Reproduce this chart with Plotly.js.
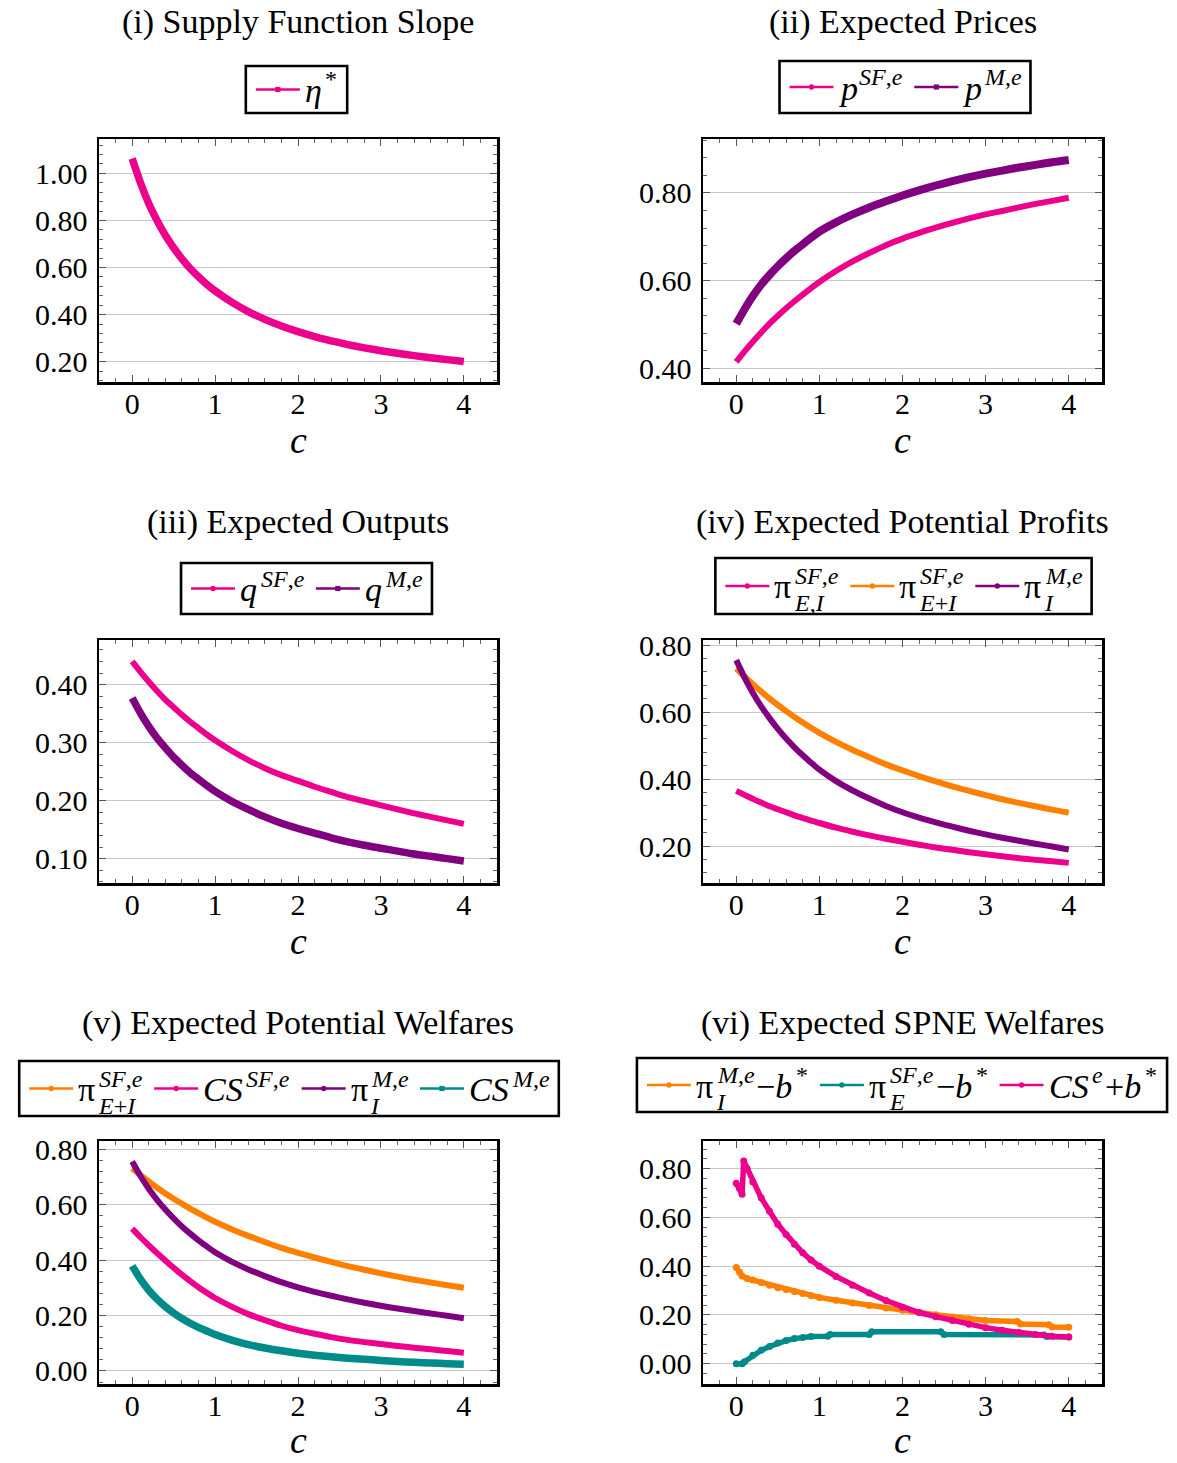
<!DOCTYPE html>
<html>
<head>
<meta charset="utf-8">
<script src="https://cdn.plot.ly/plotly-3.0.1.min.js"></script>
<style>
  html, body { margin: 0; padding: 0; background: #fff; }
  #chart { width: 1177px; height: 1463px; }
</style>
</head>
<body>
<div id="chart"></div>
<script>
// ---------- data ----------
const C = [0,0.1,0.2,0.3,0.4,0.5,0.6,0.7,0.8,0.9,1.0,1.2,1.4,1.6,1.8,2.0,2.2,2.4,2.6,2.8,3.0,3.2,3.4,3.6,3.8,4.0];

// (i) supply function slope
const etaStar = [1.063,0.960,0.872,0.800,0.737,0.684,0.637,0.596,0.561,0.529,0.501,0.453,0.413,0.380,0.352,0.328,0.307,0.289,0.273,0.259,0.247,0.236,0.226,0.217,0.209,0.201];

// (ii) expected prices
const pSF = [0.415,0.439,0.461,0.482,0.502,0.520,0.537,0.553,0.568,0.583,0.597,0.622,0.644,0.663,0.681,0.696,0.709,0.721,0.732,0.742,0.751,0.759,0.767,0.775,0.782,0.789];
const pM  = [0.502,0.535,0.565,0.591,0.613,0.633,0.651,0.668,0.683,0.698,0.712,0.733,0.751,0.767,0.781,0.794,0.806,0.817,0.827,0.836,0.844,0.851,0.858,0.864,0.870,0.875];

// (iii) expected outputs
const qSF = [0.440,0.422,0.405,0.389,0.374,0.361,0.348,0.336,0.325,0.314,0.304,0.286,0.270,0.256,0.244,0.234,0.224,0.215,0.206,0.199,0.192,0.185,0.178,0.172,0.166,0.160];
const qM  = [0.377,0.351,0.328,0.308,0.291,0.275,0.261,0.248,0.237,0.226,0.216,0.199,0.185,0.172,0.161,0.152,0.144,0.136,0.129,0.123,0.118,0.113,0.108,0.104,0.100,0.096];

// (iv) expected potential profits
const piSF_EI  = [0.365,0.353,0.341,0.330,0.319,0.310,0.301,0.292,0.284,0.276,0.269,0.255,0.243,0.232,0.222,0.213,0.204,0.196,0.189,0.182,0.176,0.170,0.164,0.159,0.155,0.150];
const piSF_EpI = [0.730,0.706,0.683,0.661,0.640,0.621,0.603,0.585,0.569,0.553,0.538,0.511,0.487,0.465,0.444,0.426,0.409,0.393,0.378,0.365,0.352,0.340,0.329,0.319,0.309,0.300];
const piM_I    = [0.755,0.703,0.657,0.617,0.582,0.550,0.521,0.495,0.471,0.449,0.428,0.394,0.366,0.342,0.320,0.301,0.285,0.271,0.258,0.246,0.235,0.225,0.216,0.207,0.199,0.190];

// (v) expected potential welfares
const CS_SF = [0.513,0.482,0.453,0.425,0.398,0.372,0.347,0.324,0.302,0.282,0.263,0.232,0.205,0.183,0.163,0.147,0.134,0.122,0.112,0.104,0.097,0.090,0.084,0.078,0.072,0.066];
const CS_M  = [0.379,0.331,0.291,0.259,0.232,0.209,0.189,0.172,0.157,0.144,0.131,0.111,0.095,0.083,0.073,0.064,0.057,0.051,0.046,0.042,0.038,0.034,0.031,0.029,0.026,0.024];

// (vi) expected SPNE welfares
const cOrange = [0,0.04,0.07,0.13,0.2,0.3,0.4,0.5,0.6,0.7,0.8,0.9,1.0,1.2,1.4,1.6,1.8,2.0,2.2,2.4,2.6,2.8,3.0,3.38,3.42,3.76,3.8,4.0];
const piMI_minus_b = [0.395,0.375,0.360,0.349,0.343,0.333,0.322,0.312,0.304,0.296,0.288,0.280,0.272,0.260,0.249,0.239,0.229,0.219,0.210,0.201,0.192,0.184,0.177,0.173,0.163,0.160,0.151,0.150];
const cTeal = [0,0.07,0.1,0.2,0.3,0.4,0.5,0.6,0.7,0.8,0.9,1.1,1.13,1.6,1.63,2.46,2.5,3.7,3.74,4.0];
const piSFE_minus_b = [0.000,0.000,0.008,0.035,0.055,0.071,0.085,0.095,0.103,0.108,0.112,0.113,0.120,0.120,0.131,0.131,0.120,0.118,0.112,0.110];
const cPink = [0,0.04,0.07,0.09,0.13,0.2,0.3,0.4,0.5,0.6,0.7,0.8,0.9,1.0,1.2,1.4,1.6,1.8,2.0,2.2,2.4,2.6,2.8,3.0,3.2,3.4,3.6,3.8,4.0];
const CSe_plus_b = [0.740,0.718,0.695,0.831,0.800,0.745,0.680,0.625,0.572,0.530,0.490,0.455,0.425,0.400,0.358,0.322,0.290,0.259,0.232,0.210,0.193,0.177,0.162,0.148,0.137,0.128,0.120,0.113,0.110];

const titles = ['(i) Supply Function Slope','(ii) Expected Prices','(iii) Expected Outputs',
                '(iv) Expected Potential Profits','(v) Expected Potential Welfares','(vi) Expected SPNE Welfares'];
const xTickVals = [0,1,2,3,4];
const xLabel = 'c';

// legend labels: base text + (superscript, subscript) pieces
const LEG = {
  eta:   [['t','<i>η</i>'],['s','*','']],
  pSF:   [['t','<i>p</i>'],['s','<i>SF</i>,<i>e</i>','']],
  pM:    [['t','<i>p</i>'],['s','<i>M</i>,<i>e</i>','']],
  qSF:   [['t','<i>q</i>'],['s','<i>SF</i>,<i>e</i>','']],
  qM:    [['t','<i>q</i>'],['s','<i>M</i>,<i>e</i>','']],
  piEI:  [['t','π'],['s','<i>SF</i>,<i>e</i>','<i>E</i>,<i>I</i>']],
  piEpI: [['t','π'],['s','<i>SF</i>,<i>e</i>','<i>E</i>+<i>I</i>']],
  piMI:  [['t','π'],['s','<i>M</i>,<i>e</i>','<i>I</i>']],
  csSF:  [['t','<i>CS</i>'],['s','<i>SF</i>,<i>e</i>','']],
  csM:   [['t','<i>CS</i>'],['s','<i>M</i>,<i>e</i>','']],
  piMIb: [['t','π'],['s','<i>M</i>,<i>e</i>','<i>I</i>'],['t','−<i>b</i>'],['s','*','']],
  piSEb: [['t','π'],['s','<i>SF</i>,<i>e</i>','<i>E</i>'],['t','−<i>b</i>'],['s','*','']],
  csEb:  [['t','<i>CS</i>'],['s','<i>e</i>',''],['t','+<i>b</i>'],['s','*','']]
};

// ---------- styling ----------
const PINK = '#EC008C', PURPLE = '#800080', ORANGE = '#FF8000', TEAL = '#008B8B';
const FAM = 'Liberation Serif';
const SERIF = '"Liberation Serif", "Times New Roman", serif';
const W = 1177, H = 1463;

function tr(x, y, color, width, idx, opts) {
  opts = opts || {};
  const t = {
    x: x, y: y, type: 'scatter', mode: opts.markers ? 'lines+markers' : 'lines',
    line: {color: color, width: width, shape: opts.linear ? 'linear' : 'spline', smoothing: 0.6},
    xaxis: 'x' + (idx === 1 ? '' : idx), yaxis: 'y' + (idx === 1 ? '' : idx),
    showlegend: false, hoverinfo: 'skip'
  };
  if (opts.markers) t.marker = {color: color, size: opts.markers, symbol: 'circle'};
  return t;
}

const traces = [
  tr(C, etaStar, PINK, 7.5, 1),
  tr(C, pSF, PINK, 6, 2),
  tr(C, pM, PURPLE, 8, 2),
  tr(C, qSF, PINK, 6, 3),
  tr(C, qM, PURPLE, 7.5, 3),
  tr(C, piSF_EI, PINK, 6, 4),
  tr(C, piSF_EpI, ORANGE, 6, 4),
  tr(C, piM_I, PURPLE, 6, 4),
  tr(C, piSF_EpI, ORANGE, 6, 5),
  tr(C, CS_SF, PINK, 6, 5),
  tr(C, piM_I, PURPLE, 6, 5),
  tr(C, CS_M, TEAL, 7.5, 5),
  tr(cOrange, piMI_minus_b, ORANGE, 5.5, 6, {linear: true, markers: 7}),
  tr(cTeal, piSFE_minus_b, TEAL, 5.5, 6, {linear: true, markers: 7}),
  tr(cPink, CSe_plus_b, PINK, 5.5, 6, {linear: true, markers: 7})
];

// panel geometry (pixels)
const frames = [
  [99, 497, 139, 382], [703, 1102, 139, 382],
  [99, 497, 640, 883], [703, 1102, 640, 883],
  [99, 497, 1141, 1384], [703, 1102, 1141, 1384]
];
const yRanges = [[0.114,1.146],[0.369,0.923],[0.058,0.477],[0.09,0.815],[-0.047,0.829],[-0.083,0.913]];
const yDticks = [0.2, 0.2, 0.1, 0.2, 0.2, 0.2];
const yMinor  = [0.04, 0.04, 0.02, 0.04, 0.04, 0.04];
const titleY  = [22, 22, 522, 522, 1023, 1023];
const xLabelY = [440, 440, 941, 941, 1440, 1440];

const legendSpecs = [
  {cx: 296.5, cy: 89.5, h: 47, items: [[PINK,'square',LEG.eta]]},
  {cx: 905, cy: 87, h: 52, items: [[PINK,'circle',LEG.pSF],[PURPLE,'square',LEG.pM]]},
  {cx: 306.5, cy: 588.5, h: 51, items: [[PINK,'circle',LEG.qSF],[PURPLE,'square',LEG.qM]]},
  {cx: 903.5, cy: 586, h: 56, items: [[PINK,'circle',LEG.piEI],[ORANGE,'circle',LEG.piEpI],[PURPLE,'circle',LEG.piMI]]},
  {cx: 289, cy: 1088.5, h: 55, items: [[ORANGE,'circle',LEG.piEpI],[PINK,'circle',LEG.csSF],[PURPLE,'circle',LEG.piMI],[TEAL,'square',LEG.csM]]},
  {cx: 902, cy: 1085, h: 54, items: [[ORANGE,'circle',LEG.piMIb],[TEAL,'circle',LEG.piSEb],[PINK,'circle',LEG.csEb]]}
];

const layout = {
  width: W, height: H,
  margin: {l: 0, r: 0, t: 0, b: 0},
  paper_bgcolor: '#fff', plot_bgcolor: '#fff',
  font: {family: SERIF, color: '#000'},
  annotations: [], shapes: [],
  showlegend: false, hovermode: false
};

const px = v => v / W, py = v => 1 - v / H;

frames.forEach((f, i) => {
  const k = i + 1;
  const xs = 'xaxis' + (k === 1 ? '' : k), ys = 'yaxis' + (k === 1 ? '' : k);
  const xid = 'x' + (k === 1 ? '' : k), yid = 'y' + (k === 1 ? '' : k);
  layout[xs] = {
    domain: [px(f[0]), px(f[1])], anchor: yid,
    range: [-0.4, 4.4], tickmode: 'array', tickvals: xTickVals, ticktext: xTickVals.map(String),
    ticks: 'inside', ticklen: 7, tickwidth: 1, tickcolor: '#555',
    showline: true, linewidth: 2.5, linecolor: '#000', mirror: 'allticks',
    showgrid: false, zeroline: false,
    minor: {tickmode: 'linear', tick0: 0, dtick: 0.2, ticks: 'inside', ticklen: 4, tickwidth: 1, tickcolor: '#666', showgrid: false},
    tickfont: {family: SERIF, size: 30, color: '#000'},
    ticklabelstandoff: -7
  };
  layout[ys] = {
    domain: [py(f[3]), py(f[2])], anchor: xid,
    range: yRanges[i], tickmode: 'linear', tick0: 0, dtick: yDticks[i], tickformat: '.2f',
    ticks: 'inside', ticklen: 7, tickwidth: 1, tickcolor: '#555',
    showline: true, linewidth: 2.5, linecolor: '#000', mirror: 'allticks',
    showgrid: true, gridcolor: '#c8c8c8', gridwidth: 1, zeroline: false,
    minor: {tickmode: 'linear', tick0: 0, dtick: yMinor[i], ticks: 'inside', ticklen: 4, tickwidth: 1, tickcolor: '#666', showgrid: false},
    tickfont: {family: SERIF, size: 30, color: '#000'},
    ticklabelstandoff: 3
  };
  // panel title
  layout.annotations.push({
    text: titles[i], xref: 'paper', yref: 'paper',
    x: px((f[0] + f[1]) / 2), y: py(titleY[i]),
    xanchor: 'center', yanchor: 'middle', showarrow: false,
    font: {family: SERIF, size: 34, color: '#000'}
  });
  // x axis label
  layout.annotations.push({
    text: '<i>' + xLabel + '</i>', xref: 'paper', yref: 'paper',
    x: px((f[0] + f[1]) / 2), y: py(xLabelY[i]),
    xanchor: 'center', yanchor: 'middle', showarrow: false,
    borderpad: 0, borderwidth: 0,
    font: {family: SERIF, size: 38, color: '#000'}
  });
});

// ---------- legends (box, line samples and math-style labels) ----------
const ctx = document.createElement('canvas').getContext('2d');
function measure(markup, size) {
  let w = 0;
  markup.split(/(<i>.*?<\/i>)/).forEach(seg => {
    if (!seg) return;
    const it = seg.startsWith('<i>');
    const txt = it ? seg.slice(3, -4) : seg;
    ctx.font = (it ? 'italic ' : '') + size + 'px "' + FAM + '"';
    w += ctx.measureText(txt).width;
  });
  return w;
}
const BASE = 34, SCRIPT = 24, LINE = 44, GAP1 = 5, GAP2 = 12, PAD = 10;
const BASE_AFTER = 2.5, SCRIPT_AFTER = 4;
const SUP_DY = -10, SUB_DY = 17;

function scriptWidth(p) {
  return Math.max(measure(p[1], SCRIPT), p[2] ? measure(p[2], SCRIPT) : 0);
}
function itemWidth(parts) {
  let w = LINE + GAP1;
  parts.forEach((p, n) => {
    if (p[0] === 't') w += measure(p[1], BASE) + BASE_AFTER;
    else w += scriptWidth(p) + (n === parts.length - 1 ? 1 : SCRIPT_AFTER);
  });
  return w;
}

legendSpecs.forEach(spec => {
  const widths = spec.items.map(it => itemWidth(it[2]));
  const total = PAD * 2 + widths.reduce((a, b) => a + b, 0) + GAP2 * (widths.length - 1);
  const left = spec.cx - total / 2;
  layout.shapes.push({type: 'rect', xref: 'paper', yref: 'paper',
    x0: px(left), x1: px(left + total), y0: py(spec.cy - spec.h / 2), y1: py(spec.cy + spec.h / 2),
    line: {color: '#000', width: 2.6}, fillcolor: '#fff', layer: 'above'});
  let x = left + PAD;
  spec.items.forEach((it, j) => {
    const [color, sym, parts] = it;
    layout.shapes.push({type: 'line', xref: 'paper', yref: 'paper',
      x0: px(x), x1: px(x + LINE), y0: py(spec.cy), y1: py(spec.cy),
      line: {color: color, width: 2.4}, layer: 'above'});
    const r = sym === 'square' ? 2.6 : 2.7;
    layout.shapes.push({type: sym === 'square' ? 'rect' : 'circle', xref: 'paper', yref: 'paper',
      x0: px(x + LINE / 2 - r), x1: px(x + LINE / 2 + r), y0: py(spec.cy - r), y1: py(spec.cy + r),
      line: {color: color, width: 0}, fillcolor: color, layer: 'above'});
    let tx = x + LINE + GAP1;
    parts.forEach((p, n) => {
      if (p[0] === 't') {
        layout.annotations.push({text: p[1], xref: 'paper', yref: 'paper', x: px(tx), y: py(spec.cy + 1),
          xanchor: 'left', yanchor: 'middle', showarrow: false, borderpad: 0, borderwidth: 0,
          font: {family: SERIF, size: BASE, color: '#000'}});
        tx += measure(p[1], BASE) + BASE_AFTER;
      } else {
        layout.annotations.push({text: p[1], xref: 'paper', yref: 'paper', x: px(tx + 1), y: py(spec.cy + SUP_DY),
          xanchor: 'left', yanchor: 'middle', showarrow: false, borderpad: 0, borderwidth: 0,
          font: {family: SERIF, size: SCRIPT, color: '#000'}});
        if (p[2]) {
          layout.annotations.push({text: p[2], xref: 'paper', yref: 'paper', x: px(tx), y: py(spec.cy + SUB_DY),
            xanchor: 'left', yanchor: 'middle', showarrow: false, borderpad: 0, borderwidth: 0,
            font: {family: SERIF, size: SCRIPT, color: '#000'}});
        }
        tx += scriptWidth(p) + (n === parts.length - 1 ? 1 : SCRIPT_AFTER);
      }
    });
    x += widths[j] + GAP2;
  });
});

Plotly.newPlot('chart', traces, layout, {staticPlot: true, displayModeBar: false});
</script>
</body>
</html>
